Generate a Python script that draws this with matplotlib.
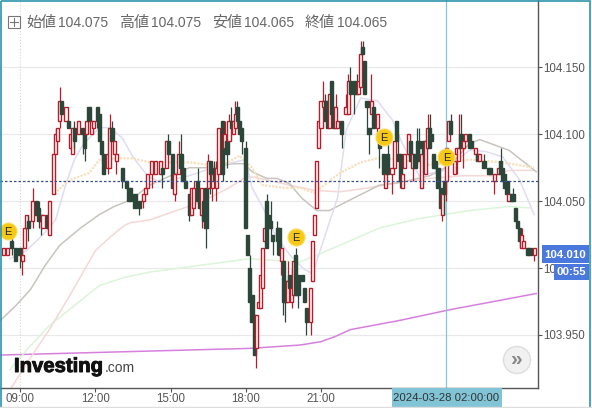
import numpy as np
import matplotlib
matplotlib.use("Agg")
import matplotlib.pyplot as plt
from matplotlib.patches import Rectangle, Circle
import matplotlib.patheffects as pe

# All prices are thousandths above 104.000; x is the 5-minute slot after 09:00.
BASE = 104.0
slot = [-8,-6,-4,-2,0,1,2,3,4,6, 8,9,10,11,13,14,16,17,18,19, 20,22,23,24,25,26,28,30,31,32,
        33,34,35,37,38,39,40,42,43,44, 45,46,49,51,52,53,55,57,59,60, 61,63,65,67,68,70,71,73,74,76,
        77,78,79,81,82,83,85,86,87,88, 89,90,91,92,93,94,95,97,98,99, 100,101,102,103,104,105,106,108,109,110,
        111,112,113,114,115,116,117,118,119,120, 121,123,124,125,126,127,128,129,130,131,
        132,133,135,136,137,139,140,141,142,143, 144,145,146,147,148,149,150,151,152,154,
        156,157,158,160,161,162,163,164,165,166, 167,168,169,171,172,174,175,176,178,179,
        180,181,182,183,184,186,187,188,189,190, 191,192,193,194,195,196,197,198,199,200,
        201,202,203,204,205,206,208,209,210,211, 212,213,215,216,218,219,220,222,224,225,
        227,229,230,231,232,233,234,235,236,237, 238,239,240,241,243,244,246]
opens = [10,10,20,15,15,5,15,30,35,35, 50,45,40,30,40,25,55,85,95,110, 125,110,110,90,85,105,100,105,100,100,
         120,100,105,120,115,95,85,75,75,105, 85,80,75,65,60,60,55,50,50,55, 60,70,70,70,75,75,95,85,55,70,
         85,75,65,55,40,45,65,55,40,50, 60,60,80,60,75,60,70,110,90,95, 95,110,100,105,120,110,105,90,25,0,
         -20,-35,-60,-30,-30,-15,20,50,40,35, 25,30,30,5,5,-10,-25,-5,-25,-20,
         10,-5,-5,-15,-30,-40,-10,25,45,90, 105,120,125,125,105,140,120,105,105,110,
         115,115,140,140,135,130,135,165,155,125, 105,115,120,105,100,85,60,85,70,75,
         110,85,85,60,75,85,95,75,85,95, 95,60,95,70,90,105,100,85,80,75,
         60,40,65,65,95,110,70,85,80,100, 90,95,100,95,85,85,80,80,75,75,
         65,70,80,75,70,65,50,55,55,45, 35,30,15,15,15,15,10]
closes = [15,15,15,5,10,10,30,40,30,50, 40,35,35,40,30,50,85,100,105,125, 115,120,105,100,105,95,110,100,90,110,
          110,110,110,110,95,85,70,85,105,95, 95,85,65,60,50,50,45,45,55,60, 70,80,80,80,70,95,85,60,70,85,
          75,65,60,40,60,60,50,45,60,35, 30,80,70,70,65,75,105,70,100,85, 110,105,110,115,110,100,95,30,10,-25,
          -40,-65,-35,-25,-5,15,30,15,30,30, 20,20,10,15,-25,-25,-10,-15,-15,5,
          -20,-20,-10,-25,-40,-15,20,40,80,110, 125,125,110,105,130,115,105,120,110,100,
          120,140,130,130,130,140,160,160,130,120, 100,125,105,115,90,70,70,70,75,95,
          95,80,65,70,85,100,80,85,75,80, 90,85,85,95,105,90,95,75,75,60,
          45,55,55,90,110,100,80,90,90,90, 95,100,90,90,90,80,85,75,70,70,
          70,75,70,65,60,55,55,50,50,35, 30,20,25,20,10,10,15]
highs = [15,15,25,15,15,15,30,40,40,60, 50,50,40,40,40,50,85,105,105,135, 125,120,110,100,105,110,110,105,100,110,
         120,110,110,120,115,95,85,85,115,110, 95,85,75,65,60,60,55,50,55,60, 70,80,80,80,75,95,100,85,70,95,
         100,75,65,55,60,65,75,55,60,50, 60,85,80,70,80,80,105,110,110,95, 115,120,110,125,125,110,105,95,25,10,
         -20,-35,-35,-25,-5,15,30,55,40,50, 25,35,30,15,5,-10,5,-5,0,5,
         15,-5,-5,-15,-30,-15,20,40,80,110, 125,140,130,125,130,140,120,130,110,110,
         130,145,150,140,145,140,170,170,155,125, 105,145,120,115,100,85,70,95,75,95,
         110,100,85,70,85,100,95,85,85,105, 105,85,95,95,115,115,100,85,80,75,
         60,55,65,90,110,115,80,90,115,115, 95,100,100,95,90,85,85,85,75,75,
         70,75,90,75,70,65,55,55,60,45, 35,30,30,20,15,15,15]
lows = [10,10,10,5,0,-5,15,30,20,30, 40,30,25,30,30,25,55,85,95,105, 115,110,105,90,85,90,100,85,80,100,
        110,100,105,105,95,80,70,70,75,95, 85,70,60,60,50,50,45,40,45,55, 60,60,70,70,60,75,85,60,50,70,
        75,65,60,35,40,45,50,45,30,35, 15,60,55,50,65,50,70,65,90,75, 95,105,100,105,110,100,85,30,10,-25,
        -40,-65,-75,-30,-30,-15,20,15,30,25, 10,10,10,-5,-35,-40,-25,-15,-30,-20,
        -20,-30,-10,-25,-50,-50,-10,25,45,90, 105,120,110,105,105,115,105,105,105,90,
        115,115,130,115,130,130,135,160,130,105, 85,115,105,100,75,70,60,70,55,75,
        95,80,60,60,75,85,80,65,75,80, 85,60,70,70,90,90,95,75,70,60,
        45,35,40,50,95,100,70,70,80,90, 75,95,90,90,80,80,80,75,70,70,
        55,70,70,65,60,55,50,50,50,35, 30,15,15,15,10,10,5]

magenta_x = [-10,14,38,62,86,110,134,144,151,158,182,206,230,247]
magenta_y = [-65,-64,-63,-62,-61,-60,-57.5,-55,-51,-46,-39,-31,-24,-19]
green_x = [-5,5,14,26,38,50,62,86,110,134,153,172,191,215,234,244]
green_y = [-76,-58,-43,-28,-13,-7,-3,2,7,4.5,17,30,37,43,46,45]
pink_x = [-4,5,14,24,36,43,50,53,62,86,100,108,112,129,141,153,167,182,196,212,220,227,234,246]
pink_y = [-89,-67,-46,-20,13,23,32,34,36,49,60,68,68,62,58,57,60,64,67,69,69,69,73,73]
grey_x = [-10,-2,5,12,19,29,38,45,53,62,72,81,89,102,107,111,118,123,129,135,142,148,158,172,182,196,206,215,220,234,247]
grey_y = [-40,-28,-16,2,17,30,40,46,51,62,69,75,75,78,78,72,67,67,63,52,43,43,51,62,64,69,77,93,96,88,72]
lav_x = [-5,3,11,17,22,26,30,38,43,49,54,61,67,81,96,108,111,116,122,129,136,140,152,156,163,171,178,183,191,203,215,223,231,239,246]
lav_y = [7,13,25,36,63,81,92,105,105,97,83,69,64,69,77,81,60,46,25,10,-1,-4,53,103,127,125,111,93,69,73,88,87,83,66,40]
tan_x = [17,18,24,33,38,46,54,62,81,96,105,111,116,126,134,141,144,153,163,171,182,196,215,231,246]
tan_y = [55,58,66,71,81,82,82,79,79,76,84,75,62,60,60,56,60,71,79,82,81,77,81,79,75]

earn_x = [-5.7,132,174,204]
earn_y = [28,23,98,83]

y_ticks = [103.95,104.0,104.05,104.10,104.15]
y_labels = ["103.950","104.000","104.050","104.100","104.150"]
x_ticks = [0,36,72,108,144]
x_labels = ["09:00","12:00","15:00","18:00","21:00"]
last_close = 104.065
cross_slot = 204

def price(v):
    return BASE + np.asarray(v, dtype=float)/1000

W, H = 592, 408
plt.rcParams['font.family'] = ['Liberation Sans', 'Noto Sans CJK JP', 'DejaVu Sans']
fig = plt.figure(figsize=(W/100, H/100), dpi=100, facecolor='white')
ax = fig.add_axes([0, 20/H, 538/W, 388/H])
ax.set_xlim(-9.6, 247.85)
ax.set_ylim(103.9104, 104.2003)
for s in ('left','top'):
    ax.spines[s].set_visible(False)
for s in ('right','bottom'):
    ax.spines[s].set_color('#555555')
    ax.spines[s].set_linewidth(1.0)
ax.yaxis.tick_right()
ax.set_yticks(y_ticks, y_labels)
ax.set_xticks(x_ticks, x_labels)
ax.tick_params(axis='x', colors='#555555', labelsize=8.3, length=3, width=0.8, pad=0.8)
ax.tick_params(axis='y', colors='#555555', labelsize=8.3, length=3, width=0.8, pad=1)
ax.grid(axis='y', color='#e9e9e9', lw=0.9)
ax.set_axisbelow(True)
ax.axvline(0, color='#d4d4d4', lw=0.8, ls=':')

ax.plot(magenta_x, price(magenta_y), color='#d680de', lw=1.1, zorder=2)
ax.plot(green_x, price(green_y), color='#daf5da', lw=1.1, zorder=2)
ax.plot(pink_x, price(pink_y), color='#f5d8d6', lw=1.1, zorder=2)
ax.plot(grey_x, price(grey_y), color='#c8c4be', lw=1.1, zorder=2)
ax.plot(lav_x, price(lav_y), color='#e0dcf2', lw=1.1, zorder=2)
ax.plot(tan_x, price(tan_y), color='#f6e0bd', lw=1.6, ls=(0,(1,0.6)), zorder=2)

ax.axvline(cross_slot, color='#86c6d8', lw=0.9, zorder=2.5)
ax.axhline(last_close, color='#3a4f96', lw=0.9, ls=(0,(2,1.6)), zorder=5)

RED, DARK = '#b81c28', '#2c4739'
for s,o,c,h,l in zip(slot, price(opens), price(closes), price(highs), price(lows)):
    up = c > o
    col = RED if up else DARK
    ax.vlines(s, l, h, color=col, lw=0.9, zorder=3)
    ax.bar(s, abs(c-o), bottom=min(o,c), width=1.5, facecolor='white' if up else DARK,
           edgecolor=col, linewidth=1.0, zorder=3)

ax.scatter(earn_x, price(earn_y), s=150, color='#f6c915', edgecolor='#f8dc66', linewidth=0.8, zorder=6, clip_on=False)
for x, y in zip(earn_x, price(earn_y)):
    ax.text(x, y, 'E', ha='center', va='center_baseline', fontsize=8, color='#222222', zorder=7)

# overlay in pixel space for the page furniture
ov = fig.add_axes([0,0,1,1], zorder=10)
ov.set_xlim(0,W); ov.set_ylim(H,0); ov.axis('off'); ov.patch.set_alpha(0)
ov.add_patch(Rectangle((1.2,1.2), 588.3, 440, fill=False, ec='#2f93ab', lw=1.2, clip_on=True))
ov.plot([0,W],[407,407], color='#dddddd', lw=1)

TXT = '#666666'
ov.add_patch(Rectangle((7.5,16), 12, 11.5, fill=False, ec='#777777', lw=0.8))
ov.plot([9.5,17.5],[21.7,21.7], color='#777777', lw=0.8)
ov.plot([13.5,13.5],[18,25.5], color='#777777', lw=0.8)
for x, s in [(26,'始値'),(119,'高値'),(212,'安値'),(305,'終値')]:
    ov.text(x, 22.5, s, fontsize=10.8, color=TXT, va='center', family=['Noto Sans CJK JP'])
for x, s in [(58,'104.075'),(150.5,'104.075'),(244,'104.065'),(337,'104.065')]:
    ov.text(x, 23, s, fontsize=10, color=TXT, va='center')

ov.add_patch(Rectangle((542,245), 47, 17.5, fc='#4a78dc', ec='none'))
ov.text(565.5, 254.5, '104.010', color='white', fontsize=8.2, fontweight='bold', ha='center', va='center')
ov.add_patch(Rectangle((554,264), 35, 15.5, fc='#4a78dc', ec='none'))
ov.text(571.5, 272, '00:55', color='white', fontsize=8.2, fontweight='bold', ha='center', va='center')

ov.add_patch(Rectangle((392,388), 109.5, 19, fc='#80c4d6', ec='none'))
ov.text(446.5, 398, '2024-03-28 02:00:00', color='#333333', fontsize=8.2, ha='center', va='center')

ov.text(14, 372, 'Investing', fontsize=14.6, fontweight='bold', color='#111111', va='baseline',
        path_effects=[pe.withStroke(linewidth=0.7, foreground='#111111')])
ov.text(105, 372, '.com', fontsize=10, color='#444444', va='baseline')

ov.add_patch(Circle((517,360), 13.5, fc='#f1f1f1', ec='#dddddd', lw=1))
ov.text(517, 359, '»', fontsize=15, fontweight='bold', color='#888888', ha='center', va='center')

fig.savefig('out.png', dpi=100)
